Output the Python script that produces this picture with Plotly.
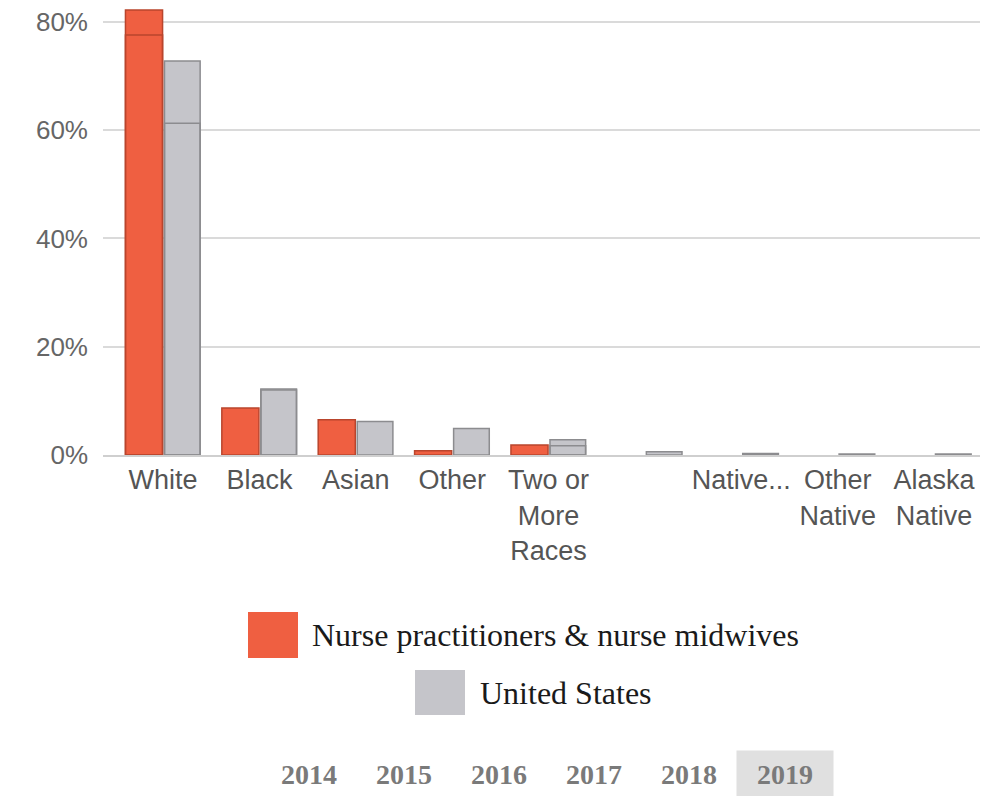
import plotly.graph_objects as go

# ---------------- data ----------------
categories = ["White", "Black", "Asian", "Other", "Two or More Races",
              "American Indian", "Native Hawaiian", "Other Native", "Alaska Native"]
tick_labels = ["White", "Black", "Asian", "Other", "Two or<br>More<br>Races",
               "", "Native...", "Other<br>Native", "Alaska<br>Native"]
nurse_values = [82.2, 8.7, 6.5, 0.8, 1.85, None, None, None, None]
us_values = [72.8, 12.2, 6.2, 4.9, 2.8, 0.6, 0.3, 0.2, 0.2]
# outline of the bars mid-transition (previous year still visible)
nurse_prev = [77.6, None, None, None, None, None, None, None, None]
us_prev = [61.3, 12.0, None, None, 1.7, None, None, None, None]
series_names = ["Nurse practitioners & nurse midwives", "United States"]
years = ["2014", "2015", "2016", "2017", "2018", "2019"]
y_ticks = [0, 20, 40, 60, 80]
y_tick_labels = ["0%", "20%", "40%", "60%", "80%"]

# ---------------- styling ----------------
W, H = 991, 796
ML, MR, MT, MB = 103, 11, 0, 341
PW, PH = W - ML - MR, H - MT - MB
ORANGE, ORANGE_LINE = "#EF5F41", "#B9452D"
GREY, GREY_LINE = "#C5C5CA", "#8C8C8F"


def px_x(px):
    return (px - ML) / PW


def px_y(py):
    return (H - MB - py) / PH


fig = go.Figure()
fig.add_trace(go.Bar(x=categories, y=nurse_values, name=series_names[0],
                     marker=dict(color=ORANGE, line=dict(color=ORANGE_LINE, width=1.5)),
                     offset=-0.39, width=0.385, showlegend=False))
fig.add_trace(go.Bar(x=categories, y=us_values, name=series_names[1],
                     marker=dict(color=GREY, line=dict(color=GREY_LINE, width=1.5)),
                     offset=0.015, width=0.37, showlegend=False))
fig.add_trace(go.Bar(x=categories, y=nurse_prev, name="prev1",
                     marker=dict(color="rgba(0,0,0,0)", line=dict(color=ORANGE_LINE, width=1.5)),
                     offset=-0.39, width=0.385, showlegend=False, hoverinfo="skip"))
fig.add_trace(go.Bar(x=categories, y=us_prev, name="prev2",
                     marker=dict(color="rgba(0,0,0,0)", line=dict(color=GREY_LINE, width=1.5)),
                     offset=0.015, width=0.37, showlegend=False, hoverinfo="skip"))

fig.update_layout(
    width=W, height=H,
    margin=dict(l=ML, r=MR, t=MT, b=MB, pad=0),
    paper_bgcolor="white", plot_bgcolor="white",
    barmode="overlay",
    showlegend=False,
    font=dict(family="Liberation Sans, Arial, sans-serif", color="#555555"),
    xaxis=dict(type="category", tickmode="array", tickvals=categories, ticktext=tick_labels,
               range=[-0.623, 8.477], showgrid=False, zeroline=False,
               showline=True, linecolor="#cfcfcf", linewidth=2,
               ticks="", tickfont=dict(size=27, color="#555555"), tickangle=0),
    yaxis=dict(range=[0, 84.06], tickmode="array", tickvals=y_ticks, ticktext=y_tick_labels,
               showgrid=True, gridcolor="#dadada", gridwidth=1.5,
               zeroline=False, showline=False, ticks="",
               tickfont=dict(size=26, color="#666666"), ticklabelstandoff=14),
)

shapes = []
annotations = []
# legend (custom, centred items with large swatches)
legend_items = [
    (series_names[0], ORANGE, 248, 298, 612, 658, 310),
    (series_names[1], GREY, 415, 465, 670, 715, 478),
]
for name, col, x0, x1, y0, y1, tx in legend_items:
    shapes.append(dict(type="rect", xref="paper", yref="paper",
                       x0=px_x(x0), x1=px_x(x1), y0=px_y(y1), y1=px_y(y0),
                       fillcolor=col, line=dict(width=0)))
    annotations.append(dict(xref="paper", yref="paper", x=px_x(tx), y=px_y((y0 + y1) / 2),
                            xanchor="left", yanchor="middle", showarrow=False, text=name,
                            font=dict(family="Liberation Serif, Times New Roman, serif",
                                      size=32, color="#1a1a1a")))

# year selector
year_centers = [309, 404, 499, 594, 689, 785]
for yr, cx in zip(years, year_centers):
    active = yr == "2019"
    annotations.append(dict(xref="paper", yref="paper", x=px_x(cx), y=px_y(774),
                            xanchor="center", yanchor="middle", showarrow=False, text=yr,
                            width=94 if active else None, height=44 if active else None,
                            bgcolor="#e0e0e0" if active else None,
                            font=dict(family="Liberation Serif, Times New Roman, serif",
                                      size=28, color="#7a7a7a", weight="bold")))

fig.update_layout(shapes=shapes, annotations=annotations)
fig.write_html("out.html")
